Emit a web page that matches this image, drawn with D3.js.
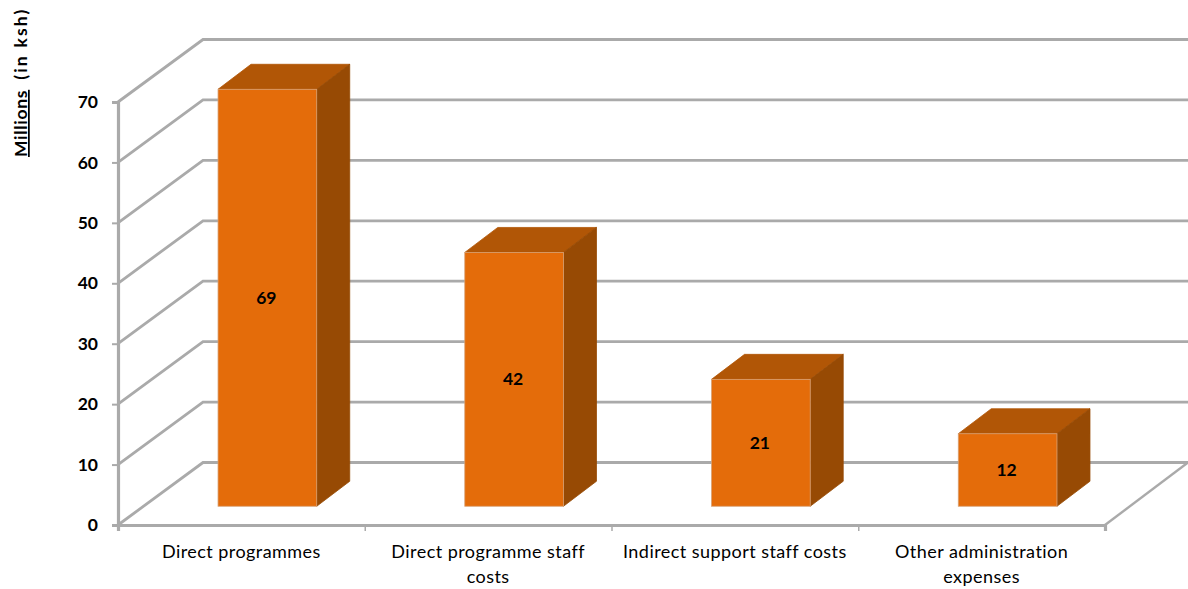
<!DOCTYPE html>
<html>
<head>
<meta charset="utf-8">
<script src="https://cdn.jsdelivr.net/npm/d3@7"></script>
<style>
  html, body { margin: 0; padding: 0; background: #fff; }
  svg { display: block; }
  text { font-family: Lato, "Open Sans", sans-serif; fill: #000; }
</style>
</head>
<body>
<svg id="chart" width="1188" height="589"></svg>
<script>
const categories = [
  ["Direct programmes"],
  ["Direct programme staff", "costs"],
  ["Indirect support staff costs"],
  ["Other administration", "expenses"]
];
const values = [69, 42, 21, 12];
const yTicks = [0, 10, 20, 30, 40, 50, 60, 70];

const svg = d3.select("#chart");

// Frame of the oblique projection: front plane plus the offset of the back wall.
const frontLeft = 118, frontRight = 1105, floorY = 525, topY = 102;
const depthX = 85, depthY = -62.5;
const barDepthX = 33, barDepthY = -25;
const gridColor = "#aaaaaa";

const y = d3.scaleLinear().domain([0, 70]).range([floorY, topY]);
const x = d3.scaleBand().domain(d3.range(categories.length)).range([frontLeft, frontRight]).paddingInner(0.6).paddingOuter(0.3);
const xTicks = d3.scaleLinear().domain([0, categories.length]).range([frontLeft, frontRight]);

// Side wall diagonals and back wall lines.
const grid = svg.append("g").attr("fill", "none").attr("stroke", gridColor).attr("stroke-width", 2.8);
grid.selectAll("path.wall").data(yTicks).join("path")
  .attr("class", "wall")
  .attr("d", t => d3.line()([
    [frontLeft, y(t)],
    [frontLeft + depthX, y(t) + depthY],
    [1188, y(t) + depthY]
  ]));
// Right edge of the floor.
grid.append("path").attr("stroke-width", 2.4)
  .attr("d", d3.line()([
    [frontRight, floorY],
    [frontRight + 83, floorY + depthY]
  ]));

// Value axis.
const yAxis = svg.append("g")
  .attr("transform", `translate(${frontLeft},0)`)
  .call(d3.axisLeft(y).tickValues(yTicks).tickSize(6).tickPadding(14).tickFormat(d3.format("d")));
yAxis.selectAll(".domain").attr("stroke", gridColor).attr("stroke-width", 3.2);
yAxis.selectAll(".tick line").attr("stroke", gridColor).attr("stroke-width", 2);
yAxis.selectAll("text").attr("font-size", 17.5).attr("font-weight", 700).attr("font-family", "Lato");

// Category axis: ticks sit between the categories, labels are placed separately.
const xAxis = svg.append("g")
  .attr("transform", `translate(0,${floorY})`)
  .call(d3.axisBottom(xTicks).tickValues(d3.range(categories.length + 1)).tickSize(6).tickFormat(""));
xAxis.selectAll(".domain").attr("stroke", gridColor).attr("stroke-width", 3.2);
xAxis.selectAll(".tick line").attr("stroke", gridColor).attr("stroke-width", 1.5);

const labels = svg.append("g").attr("text-anchor", "middle").attr("font-size", 18).attr("letter-spacing", 0.45);
labels.selectAll("text").data(categories).join("text")
  .attr("transform", (d, i) => `translate(${(xTicks(i) + xTicks(i + 1)) / 2},558)`)
  .selectAll("tspan").data(d => d).join("tspan")
  .attr("x", 0)
  .attr("dy", (d, i) => i ? 25 : 0)
  .text(d => d);

// Bars sit in the middle of the floor depth.
const insetX = (depthX - barDepthX) / 2, insetY = (depthY - barDepthY) / 2;
const bars = svg.append("g").selectAll("g").data(values).join("g")
  .attr("transform", `translate(${insetX},${insetY})`);

const left = i => x(i), right = i => x(i) + x.bandwidth();
const poly = pts => d3.line()(pts) + "Z";

// Top face
bars.append("path")
  .attr("fill", "#b15606").attr("stroke", "#b15606").attr("stroke-width", 0.8)
  .attr("d", (d, i) => poly([
    [left(i), y(d)], [right(i), y(d)],
    [right(i) + barDepthX, y(d) + barDepthY], [left(i) + barDepthX, y(d) + barDepthY]
  ]));
// Side face
bars.append("path")
  .attr("fill", "#974a04").attr("stroke", "#974a04").attr("stroke-width", 0.8)
  .attr("d", (d, i) => poly([
    [right(i), y(d)], [right(i) + barDepthX, y(d) + barDepthY],
    [right(i) + barDepthX, y(0) + barDepthY], [right(i), y(0)]
  ]));
// Front face
bars.append("rect")
  .attr("fill", "#e46c0a").attr("stroke", "#d8a276").attr("stroke-width", 0.8)
  .attr("x", (d, i) => left(i))
  .attr("y", d => y(d))
  .attr("width", x.bandwidth())
  .attr("height", d => y(0) - y(d));
// Value labels in the middle of the front face
bars.append("text")
  .attr("x", (d, i) => left(i) + x.bandwidth() / 2 - 1)
  .attr("y", d => (y(d) + y(0)) / 2 + 6)
  .attr("text-anchor", "middle")
  .attr("font-size", 17.5)
  .attr("font-weight", 700)
  .text(d => d);

// Value axis title
const title = svg.append("text")
  .attr("transform", "translate(27,157) rotate(-90)")
  .attr("font-size", 17.5)
  .attr("font-weight", 700)
  .attr("letter-spacing", 0.7);
title.append("tspan").attr("text-decoration", "underline").text("Millions");
title.append("tspan").attr("dx", 10).attr("letter-spacing", 2.2).text("(in ksh)");
</script>
</body>
</html>
